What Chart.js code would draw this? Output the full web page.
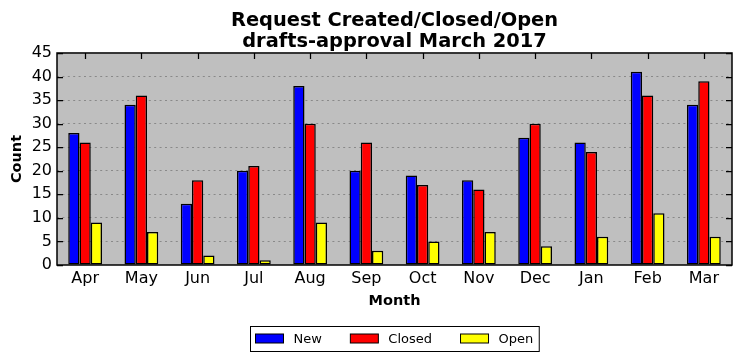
<!DOCTYPE html>
<html>
<head>
<meta charset="utf-8">
<script src="https://cdn.jsdelivr.net/npm/chart.js@4.4.1/dist/chart.umd.min.js"></script>
<style>
  html, body { margin: 0; padding: 0; background: #ffffff; }
  #wrap { width: 741px; height: 361px; position: relative; }
</style>
</head>
<body>
<div id="wrap"><canvas id="c" width="741" height="361"></canvas></div>
<script>
const categories = ["Apr", "May", "Jun", "Jul", "Aug", "Sep", "Oct", "Nov", "Dec", "Jan", "Feb", "Mar"];
const newValues    = [28, 34, 13, 20, 38, 20, 19, 18, 27, 26, 41, 34];
const closedValues = [26, 36, 18, 21, 30, 26, 17, 16, 30, 24, 36, 39];
const openValues   = [9, 7, 2, 1, 9, 3, 5, 7, 4, 6, 11, 6];
const seriesNames  = ["New", "Closed", "Open"];
const seriesColors = ["#0000ff", "#ff0000", "#ffff00"];
const titleLines   = ["Request Created/Closed/Open", "drafts-approval March 2017"];
const yTicks       = [0, 5, 10, 15, 20, 25, 30, 35, 40, 45];

const FONT = "'DejaVu Sans', 'Liberation Sans', sans-serif";

const plotDecor = {
  id: 'plotDecor',
  beforeDraw(chart) {
    const {ctx, chartArea: a} = chart;
    ctx.save();
    ctx.fillStyle = '#bfbfbf';
    ctx.fillRect(a.left, a.top, a.right - a.left, a.bottom - a.top);
    ctx.restore();
  },
  afterDatasetsDraw(chart) {
    const {ctx, chartArea: a, scales} = chart;
    ctx.save();
    ctx.strokeStyle = '#000';
    ctx.lineWidth = 1.25;
    yTicks.forEach(v => {
      const y = Math.round(scales.y.getPixelForValue(v)) + 0.5;
      ctx.beginPath();
      ctx.moveTo(a.left, y); ctx.lineTo(a.left + 6, y);
      ctx.moveTo(a.right, y); ctx.lineTo(a.right - 6, y);
      ctx.stroke();
    });
    categories.forEach((c, i) => {
      const x = Math.round(scales.x.getPixelForValue(i)) + 0.5;
      ctx.beginPath();
      ctx.moveTo(x, a.top); ctx.lineTo(x, a.top + 6);
      ctx.stroke();
    });
    ctx.lineWidth = 1.5;
    ctx.strokeRect(a.left, a.top, a.right - a.left, a.bottom - a.top);
    ctx.restore();
  },
  afterDraw(chart) {
    const {ctx} = chart;
    ctx.save();
    ctx.font = "13px " + FONT;
    ctx.textBaseline = 'alphabetic';
    const boxW = 28, boxH = 9, gapText = 10, gapItem = 28.5, padL = 5, padR = 6;
    let total = padL + padR;
    chart.data.datasets.forEach((ds, i) => {
      total += boxW + gapText + ctx.measureText(ds.label).width;
      if (i < chart.data.datasets.length - 1) total += gapItem;
    });
    const a = chart.chartArea;
    const cx = (a.left + a.right) / 2;
    const left = Math.round(cx - total / 2) + 0.5;
    const top = 326.5, h = 25;
    ctx.fillStyle = '#fff';
    ctx.fillRect(left, top, total, h);
    ctx.strokeStyle = '#000';
    ctx.lineWidth = 1;
    ctx.strokeRect(left, top, total, h);
    let x = left + padL;
    chart.data.datasets.forEach((ds, i) => {
      ctx.fillStyle = ds.backgroundColor;
      ctx.fillRect(x, 334, boxW, boxH);
      ctx.strokeStyle = '#000';
      ctx.strokeRect(x, 334, boxW, boxH);
      ctx.fillStyle = '#000';
      ctx.fillText(ds.label, x + boxW + gapText, 343);
      x += boxW + gapText + ctx.measureText(ds.label).width + gapItem;
    });
    ctx.restore();
  }
};

new Chart(document.getElementById('c'), {
  type: 'bar',
  data: {
    labels: categories,
    datasets: [
      { label: seriesNames[0], data: newValues,    backgroundColor: seriesColors[0] },
      { label: seriesNames[1], data: closedValues, backgroundColor: seriesColors[1] },
      { label: seriesNames[2], data: openValues,   backgroundColor: seriesColors[2] }
    ].map(d => Object.assign(d, { borderColor: '#000', borderWidth: 1.5, borderSkipped: false, categoryPercentage: 0.6, barPercentage: 1.0 }))
  },
  options: {
    responsive: false,
    animation: false,
    devicePixelRatio: 1,
    layout: { padding: { left: 0, right: 9, top: 0, bottom: 40 } },
    plugins: {
      legend: { display: false },
      tooltip: { enabled: false },
      title: {
        display: true,
        fullSize: false,
        text: titleLines,
        color: '#000',
        font: { family: FONT, size: 19.4, weight: 'bold', lineHeight: 1.1 },
        padding: { top: 10, bottom: 0.3 }
      }
    },
    scales: {
      x: {
        offset: true,
        grid: { display: false, drawTicks: false },
        border: { display: false },
        ticks: { color: '#000', font: { family: FONT, size: 16 }, padding: 4, maxRotation: 0 },
        title: { display: true, text: 'Month', color: '#000', font: { family: FONT, size: 14.5, weight: 'bold' }, padding: { top: 0, bottom: 11 } },
        afterFit: s => { s.height = 56; }
      },
      y: {
        min: 0, max: 45,
        afterBuildTicks: s => { s.ticks = yTicks.map(v => ({ value: v })); },
        grid: {
          drawTicks: false,
          lineWidth: 1,
          color: c => (c.tick && (c.tick.value === 0 || c.tick.value === 45)) ? 'rgba(0,0,0,0)' : 'rgba(70,70,70,0.45)'
        },
        border: { display: false, dash: [2, 3.4] },
        ticks: { color: '#000', font: { family: FONT, size: 16 }, padding: 5 },
        title: { display: true, text: 'Count', color: '#000', font: { family: FONT, size: 14.5, weight: 'bold' }, padding: { top: 8.3, bottom: 0 } },
        afterFit: s => { s.width = 57; }
      }
    }
  },
  plugins: [plotDecor]
});
</script>
</body>
</html>
